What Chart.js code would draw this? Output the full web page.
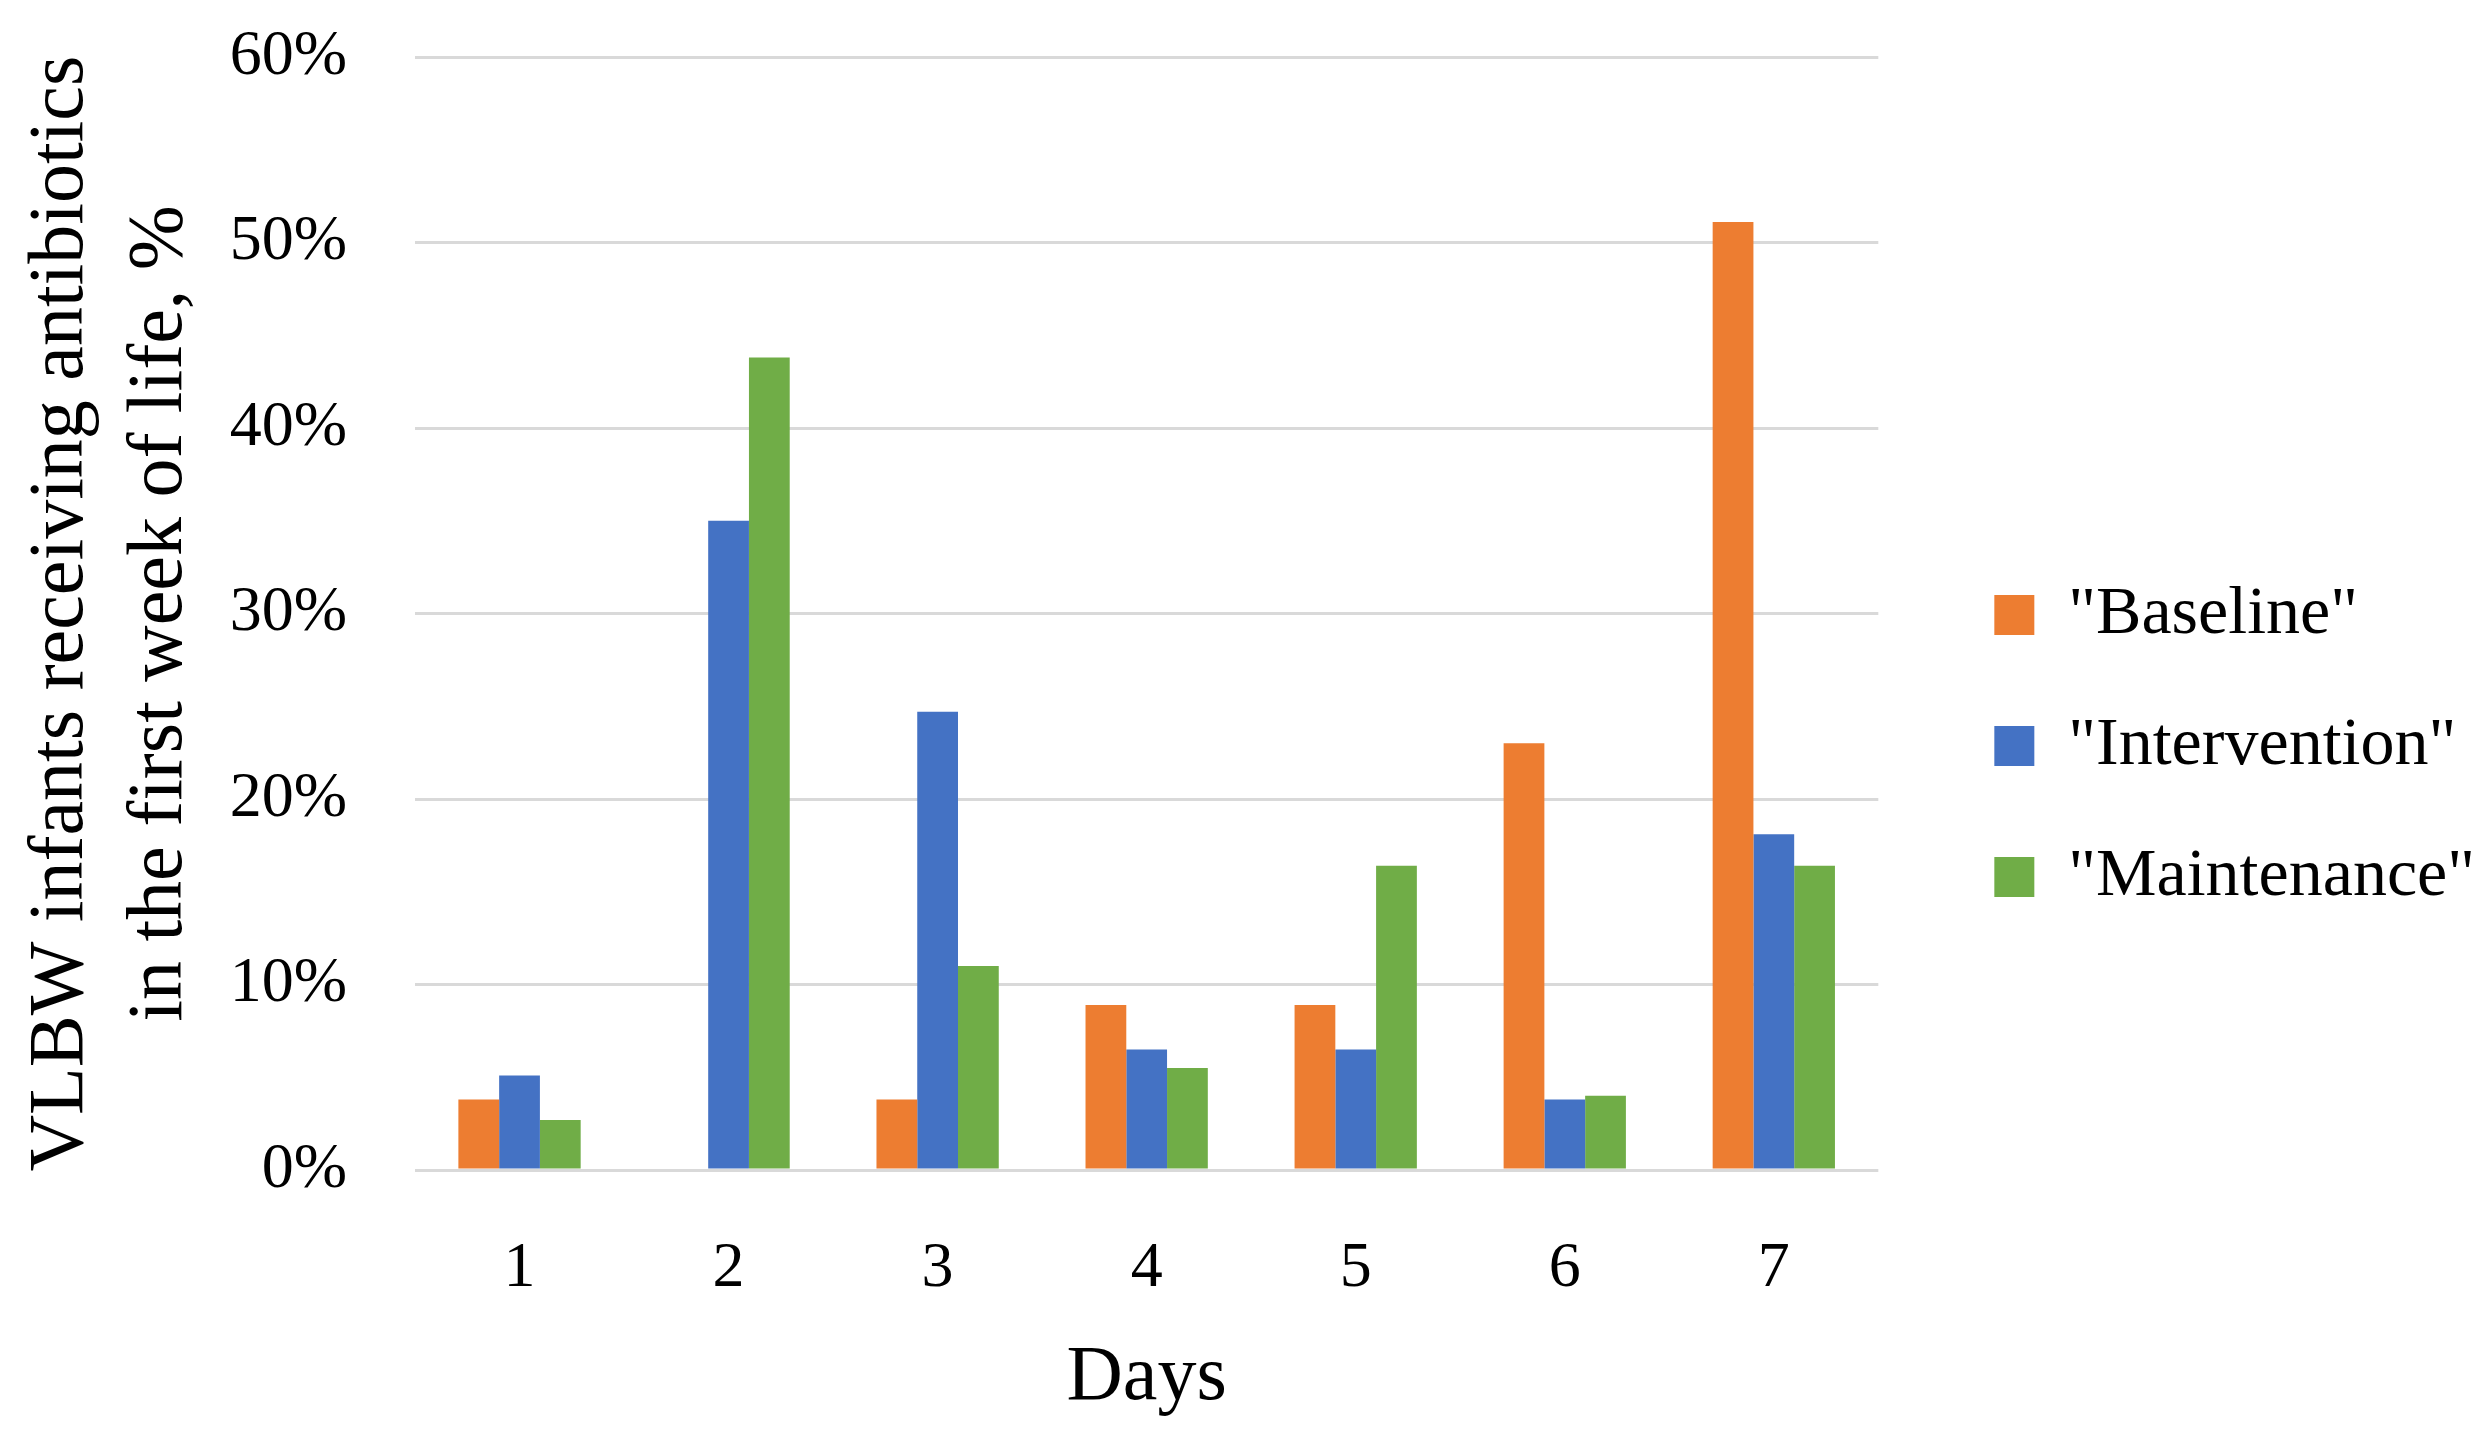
<!DOCTYPE html>
<html>
<head>
<meta charset="utf-8">
<script src="https://cdn.jsdelivr.net/npm/chart.js@4/dist/chart.umd.min.js"></script>
<style>
  html, body { margin: 0; padding: 0; background: #ffffff; }
  #wrap { width: 2485px; height: 1444px; position: relative; }
</style>
</head>
<body>
<div id="wrap"><canvas id="antibioticsChart"></canvas></div>
<script>
// Chart data (percent of VLBW infants per day)
const days = ['1', '2', '3', '4', '5', '6', '7'];
const baseline = [3.8, 0, 3.8, 8.9, 8.9, 23.0, 51.1];
const intervention = [5.1, 35.0, 24.7, 6.5, 6.5, 3.8, 18.1];
const maintenance = [2.7, 43.8, 11.0, 5.5, 16.4, 4.0, 16.4];
const yTicks = [0, 10, 20, 30, 40, 50, 60];

const FONT = "'Liberation Serif', 'DejaVu Serif', serif";

function initChart() {
    const ctx = document.getElementById('antibioticsChart').getContext('2d');

    Chart.defaults.color = '#000000';
    Chart.defaults.font.family = FONT;

    new Chart(ctx, {
        type: 'bar',
        data: {
            labels: days,
            datasets: [
                { label: '"Baseline"', data: baseline, backgroundColor: '#ED7D31', borderWidth: 0 },
                { label: '"Intervention"', data: intervention, backgroundColor: '#4472C4', borderWidth: 0 },
                { label: '"Maintenance"', data: maintenance, backgroundColor: '#70AD47', borderWidth: 0 }
            ]
        },
        options: {
            responsive: true,
            maintainAspectRatio: false,
            devicePixelRatio: 1,
            animation: false,
            layout: {
                padding: { top: 57, bottom: 9, left: 0, right: 0 }
            },
            datasets: {
                bar: {
                    categoryPercentage: 0.585,
                    barPercentage: 1.0
                }
            },
            plugins: {
                tooltip: { enabled: false },
                legend: {
                    position: 'right',
                    maxWidth: 620,
                    labels: {
                        color: '#000000',
                        boxWidth: 40,
                        boxHeight: 40,
                        padding: 63,
                        font: { family: FONT, size: 68 }
                    }
                }
            },
            scales: {
                x: {
                    grid: { display: false },
                    border: { display: false },
                    ticks: {
                        padding: 53,
                        font: { family: FONT, size: 64 }
                    },
                    title: {
                        display: true,
                        text: 'Days',
                        padding: { top: 0, bottom: 10 },
                        font: { family: FONT, size: 78 }
                    },
                    afterFit: (scale) => { scale.height = 265; }
                },
                y: {
                    min: 0,
                    max: 60,
                    grid: {
                        color: '#d9d9d9',
                        lineWidth: 3,
                        drawTicks: true,
                        tickLength: 68,
                        tickColor: 'rgba(0,0,0,0)'
                    },
                    border: { display: false },
                    afterBuildTicks: (scale) => {
                        scale.ticks = yTicks.map(v => ({ value: v }));
                    },
                    ticks: {
                        padding: 0,
                        font: { family: FONT, size: 64 },
                        callback: (value) => value + '%'
                    },
                    title: {
                        display: true,
                        text: ['VLBW infants receiving antibiotics', 'in the first week of life, %'],
                        padding: { top: 12, bottom: 0 },
                        font: { family: FONT, size: 78, lineHeight: 1.27 }
                    },
                    afterFit: (scale) => { scale.width = 415; }
                },
                // empty axis used only as a gap between the plot and the legend
                gap: {
                    type: 'linear',
                    position: 'right',
                    grid: { display: false },
                    border: { display: false },
                    ticks: { display: false },
                    afterFit: (scale) => { scale.width = 53; }
                }
            }
        }
    });
}

document.addEventListener('DOMContentLoaded', initChart);
</script>
</body>
</html>
